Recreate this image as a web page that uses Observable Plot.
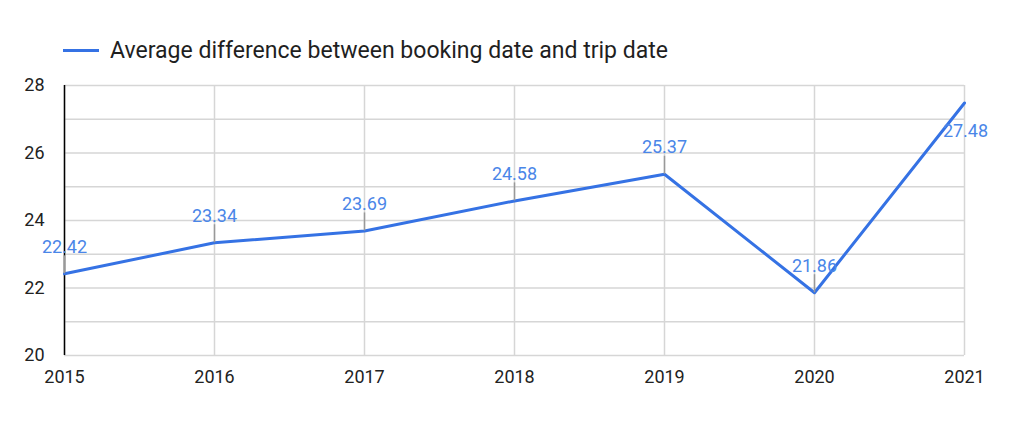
<!DOCTYPE html>
<html>
<head>
<meta charset="utf-8">
<script src="https://cdn.jsdelivr.net/npm/d3@7"></script>
<script src="https://cdn.jsdelivr.net/npm/@observablehq/plot@0.6"></script>
<style>
  body { margin: 0; background: #fff; width: 1024px; height: 441px; overflow: hidden; font-family: Roboto, sans-serif; }
  #legend { position: relative; height: 70px; }
  #legend .sw { position: absolute; left: 63px; top: 49px; width: 36px; height: 3px; background: #3572e4; }
  #legend .tx { position: absolute; left: 110px; top: 36px; line-height: 28px; font-size: 24px; color: #1f1f1f; white-space: nowrap; transform-origin: left center; }
  #chart svg { display: block; }
</style>
</head>
<body>
<div id="legend"><div class="sw"></div><span class="tx" id="legendText"></span></div>
<div id="chart"></div>
<script>
const years = [2015, 2016, 2017, 2018, 2019, 2020, 2021];
const values = [22.42, 23.34, 23.69, 24.58, 25.37, 21.86, 27.48];
const yTickValues = [20, 22, 24, 26, 28];
const yGridValues = [20, 21, 22, 23, 24, 25, 26, 27, 28];
const seriesName = "Average difference between booking date and trip date";

const data = years.map((year, i) => ({year, value: values[i]}));
const lastYear = years[years.length - 1];
const inner = data.filter(d => d.year !== lastYear);
const last = data.filter(d => d.year === lastYear);

const lt = document.getElementById("legendText");
lt.textContent = seriesName;
const w = lt.getBoundingClientRect().width;
lt.style.transform = `scaleX(${558 / w})`;

const chart = Plot.plot({
  width: 1024,
  height: 371,
  marginTop: 15,
  marginBottom: 86,
  marginLeft: 64,
  marginRight: 60,
  style: { fontFamily: "Roboto, sans-serif", fontSize: "18px", color: "#222", background: "white" },
  x: { domain: [2015, 2021], ticks: years, tickFormat: d => String(d), tickSize: 0, tickPadding: 15, label: null },
  y: { domain: [20, 28], ticks: yTickValues, tickFormat: d => String(d), tickSize: 0, tickPadding: 20, label: null },
  marks: [
    Plot.ruleY(yGridValues, { stroke: "#d6d6d6", strokeWidth: 1.5 }),
    Plot.ruleX(years, { stroke: "#d6d6d6", strokeWidth: 1.5 }),
    Plot.ruleX([2015], { stroke: "#000", strokeWidth: 1.5 }),
    Plot.line(data, { x: "year", y: "value", stroke: "#3572e4", strokeWidth: 3 }),
    Plot.ruleX(inner, { x: "year", y1: "value", y2: "value", insetTop: -18, stroke: "#999", strokeWidth: 1.5 }),
    Plot.text(inner, { x: "year", y: "value", text: d => d.value.toFixed(2), dy: -21, lineAnchor: "bottom", fill: "#4a86e8", fontSize: 18 }),
    Plot.text(last, { x: "year", y: "value", text: d => d.value.toFixed(2), dy: 34, dx: 1, lineAnchor: "bottom", fill: "#4a86e8", fontSize: 18 })
  ]
});
document.getElementById("chart").appendChild(chart);
</script>
</body>
</html>
